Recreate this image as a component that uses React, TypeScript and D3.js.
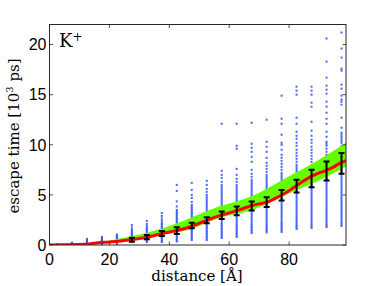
import React from "react";
import * as d3 from "d3";

// ---- data ----
const xTicks = [0, 20, 40, 60, 80];
const yTicks = [0, 5, 10, 15, 20];

// scatter columns (distance [Å]) and escape times [10^3 ps]
const colX = [2.5, 7.5, 12.5, 17.5, 22.5, 27.5, 32.5, 37.5, 42.5, 47.5, 52.5, 57.5, 62.5, 67.5, 72.5, 77.5, 82.5, 87.5, 92.5, 97.5];
const colY: number[][] = [
  [0.01, 0.03, 0.05, 0.08],
  [0.03, 0.06, 0.1, 0.14, 0.18, 0.23],
  [0.05, 0.1, 0.15, 0.2, 0.26, 0.32, 0.4, 0.48, 0.6],
  [0.08, 0.14, 0.2, 0.27, 0.35, 0.42, 0.5, 0.58, 0.68, 0.8],
  [0.12, 0.18, 0.25, 0.32, 0.4, 0.48, 0.56, 0.64, 0.72, 0.82, 0.92, 1.05],
  [0.3, 0.38, 0.45, 0.52, 0.6, 0.68, 0.76, 0.85, 0.95, 1.05, 1.15, 1.28, 1.4, 1.55, 1.75, 2.0],
  [0.3, 0.4, 0.5, 0.6, 0.7, 0.8, 0.9, 1.0, 1.1, 1.2, 1.32, 1.45, 1.58, 1.72, 1.9, 2.1, 2.4],
  [0.3, 0.42, 0.55, 0.68, 0.8, 0.92, 1.05, 1.18, 1.3, 1.42, 1.55, 1.68, 1.8, 1.95, 2.1, 2.25, 2.45, 2.65, 2.9, 3.2],
  [0.35, 0.5, 0.65, 0.8, 0.95, 1.1, 1.25, 1.4, 1.55, 1.7, 1.85, 2.0, 2.15, 2.3, 2.45, 2.6, 2.75, 2.9, 3.05, 3.2, 3.35, 3.5, 3.85, 4.35, 5.4, 6.0],
  [0.5, 0.65, 0.8, 0.95, 1.1, 1.25, 1.4, 1.55, 1.7, 1.85, 2.0, 2.15, 2.3, 2.45, 2.6, 2.75, 2.9, 3.05, 3.2, 3.35, 3.5, 3.65, 3.8, 4.0, 4.3, 4.7, 5.0, 5.5, 6.2],
  [0.5, 0.65, 0.8, 0.95, 1.1, 1.25, 1.4, 1.55, 1.7, 1.85, 2.0, 2.2, 2.4, 2.6, 2.8, 3.0, 3.2, 3.4, 3.6, 3.8, 4.0, 4.2, 4.4, 4.6, 4.8, 5.0, 5.3, 5.6, 6.0, 6.4],
  [0.7, 0.85, 1.0, 1.15, 1.3, 1.45, 1.6, 1.75, 1.9, 2.05, 2.2, 2.4, 2.6, 2.8, 3.0, 3.2, 3.4, 3.6, 3.8, 4.0, 4.2, 4.4, 4.6, 4.8, 5.0, 5.2, 5.4, 5.6, 5.8, 6.0, 6.3, 6.7, 7.0, 7.4, 12.1],
  [0.8, 0.95, 1.1, 1.25, 1.4, 1.55, 1.7, 1.85, 2.0, 2.2, 2.4, 2.6, 2.8, 3.0, 3.2, 3.4, 3.6, 3.8, 4.0, 4.2, 4.4, 4.6, 4.8, 5.0, 5.2, 5.4, 5.6, 5.8, 6.0, 6.3, 6.6, 7.0, 7.6, 9.6, 9.9, 12.1],
  [1.2, 1.35, 1.5, 1.65, 1.8, 1.95, 2.1, 2.3, 2.5, 2.7, 2.9, 3.1, 3.3, 3.5, 3.7, 3.9, 4.1, 4.3, 4.5, 4.7, 4.9, 5.1, 5.3, 5.5, 5.7, 5.9, 6.1, 6.3, 6.5, 6.8, 7.1, 7.5, 8.3, 8.8, 9.3, 9.7, 10.1, 12.2],
  [1.25, 1.4, 1.55, 1.7, 1.85, 2.0, 2.2, 2.4, 2.6, 2.8, 3.0, 3.2, 3.4, 3.6, 3.8, 4.0, 4.2, 4.4, 4.6, 4.8, 5.0, 5.2, 5.4, 5.6, 5.8, 6.0, 6.2, 6.4, 6.6, 6.8, 7.0, 7.3, 7.6, 7.9, 8.2, 8.7, 9.3, 9.8, 10.3, 12.5],
  [1.3, 1.45, 1.6, 1.75, 1.9, 2.05, 2.2, 2.4, 2.6, 2.8, 3.0, 3.2, 3.4, 3.6, 3.8, 4.0, 4.2, 4.4, 4.6, 4.8, 5.0, 5.2, 5.4, 5.6, 5.8, 6.0, 6.2, 6.4, 6.6, 6.8, 7.0, 7.2, 7.5, 7.8, 8.1, 8.4, 8.7, 9.0, 9.5, 10.0, 10.2, 11.0, 12.1, 12.6, 14.9],
  [1.6, 1.75, 1.9, 2.05, 2.2, 2.4, 2.6, 2.8, 3.0, 3.2, 3.4, 3.6, 3.8, 4.0, 4.2, 4.4, 4.6, 4.8, 5.0, 5.2, 5.4, 5.6, 5.8, 6.0, 6.2, 6.4, 6.6, 6.8, 7.0, 7.2, 7.4, 7.6, 7.8, 8.0, 8.3, 8.6, 8.9, 9.2, 9.5, 9.9, 10.2, 10.6, 10.9, 11.3, 12.1, 12.7, 15.0, 15.4, 15.8],
  [1.7, 1.85, 2.0, 2.2, 2.4, 2.6, 2.8, 3.0, 3.2, 3.4, 3.6, 3.8, 4.0, 4.2, 4.4, 4.6, 4.8, 5.0, 5.2, 5.4, 5.6, 5.8, 6.0, 6.2, 6.4, 6.6, 6.8, 7.0, 7.2, 7.4, 7.6, 7.8, 8.0, 8.3, 8.6, 8.9, 9.2, 9.5, 9.8, 10.2, 10.5, 10.9, 11.4, 12.3, 13.8, 14.2, 15.0, 15.4, 15.8],
  [1.8, 1.95, 2.1, 2.3, 2.5, 2.7, 2.9, 3.1, 3.3, 3.5, 3.7, 3.9, 4.1, 4.3, 4.5, 4.7, 4.9, 5.1, 5.3, 5.5, 5.7, 5.9, 6.1, 6.3, 6.5, 6.7, 6.9, 7.1, 7.3, 7.5, 7.7, 7.9, 8.1, 8.4, 8.7, 9.0, 9.3, 9.6, 9.9, 10.1, 10.3, 10.8, 11.3, 12.1, 12.6, 13.2, 13.8, 14.3, 15.1, 15.5, 15.9, 16.7, 18.3, 20.6],
  [1.9, 2.05, 2.2, 2.4, 2.6, 2.8, 3.0, 3.2, 3.4, 3.6, 3.8, 4.0, 4.2, 4.4, 4.6, 4.8, 5.0, 5.2, 5.4, 5.6, 5.8, 6.0, 6.2, 6.4, 6.6, 6.8, 7.0, 7.2, 7.4, 7.6, 7.8, 8.0, 8.2, 8.4, 8.7, 9.0, 9.3, 9.6, 9.9, 10.2, 10.4, 10.6, 10.8, 11.0, 11.2, 11.7, 12.7, 14.0, 14.3, 14.5, 14.9, 15.6, 16.0, 17.4, 17.6, 18.7, 19.6, 21.2],
];

// green band (fit range)
const bandX = [0, 10, 20, 30, 40, 45.4, 56.5, 67.7, 78.8, 90, 99];
const bandLo = [0, 0.07, 0.28, 0.63, 1.15, 1.43, 2.67, 3.5, 5.0, 6.43, 7.8];
const bandHi = [0, 0.12, 0.45, 1.05, 1.9, 2.5, 3.83, 4.9, 6.67, 8.5, 10.2];

// red mean curve
const meanX = [0, 5, 10, 13, 17, 20, 23, 25, 27.8, 30, 32.6, 35, 37.6, 40, 42.6, 45.4, 47.6, 50, 52.6, 55, 57.6, 60, 62.6, 64.9, 67.4, 69.8, 72.5, 74.9, 77.5, 79.9, 82.4, 84.9, 87.2, 89.8, 92.1, 94.8, 97, 99];
const meanY = [0, 0.02, 0.06, 0.1, 0.25, 0.3, 0.38, 0.45, 0.55, 0.65, 0.77, 0.95, 1.15, 1.3, 1.45, 1.67, 1.88, 2.17, 2.45, 2.75, 3.0, 3.2, 3.43, 3.67, 3.93, 4.1, 4.23, 4.57, 4.97, 5.4, 5.9, 6.4, 6.83, 7.17, 7.4, 7.77, 8.17, 8.43];

// error bars
const errX = [27.5, 32.5, 37.5, 42.5, 47.5, 52.5, 57.5, 62.5, 67.5, 72.5, 77.5, 82.5, 87.5, 92.5, 97.5];
const errLo = [0.33, 0.57, 0.9, 1.1, 1.67, 2.17, 2.6, 2.97, 3.43, 3.8, 4.43, 5.23, 5.77, 6.43, 7.1];
const errHi = [0.73, 1.0, 1.4, 1.77, 2.23, 2.77, 3.33, 3.83, 4.33, 4.77, 5.5, 6.5, 7.5, 8.33, 9.17];

export default function App() {
  const W = 382, H = 286;
  const x = d3.scaleLinear().domain([0, 99]).range([49.5, 346]);
  const y = d3.scaleLinear().domain([0, 22]).range([245, 24.5]);
  const [x0, x1] = x.range();
  const [y0, y1] = y.range();

  const area = d3.area<number>()
    .x((_, i) => x(bandX[i]))
    .y0((_, i) => y(bandLo[i]))
    .y1((_, i) => y(bandHi[i]))
    .curve(d3.curveMonotoneX);
  const line = d3.line<number>()
    .x((_, i) => x(meanX[i]))
    .y((v) => y(v));

  const tickLen = 3.5;
  const axisColor = "#262626";
  const sans = "'Liberation Sans', Arial, Helvetica, sans-serif";
  const serif = "'DejaVu Serif', serif";

  return (
    <svg width={W} height={H} style={{ position: "absolute", left: 0, top: 0, background: "#fff" }}>
      <defs>
        <clipPath id="plot">
          <rect x={x0} y={y1} width={x1 - x0} height={y0 - y1} />
        </clipPath>
      </defs>
      <g clipPath="url(#plot)">
        {colX.map((cx, i) =>
          colY[i].map((v, j) => (
            <rect key={`p${i}-${j}`} x={x(cx) - 1} y={y(v) - 1} width={2} height={2} fill="#3355ff" fillOpacity={0.9} />
          ))
        )}
        <path d={area(bandX) ?? ""} fill="#66ff00" stroke="none" />
        <path d={line(meanY) ?? ""} fill="none" stroke="#ff0000" strokeWidth={3} strokeLinejoin="round" />
        {errX.map((ex, i) => {
          const cx = x(ex);
          return (
            <g key={`e${i}`} stroke="#000" strokeWidth={2}>
              <line x1={cx} x2={cx} y1={y(errLo[i])} y2={y(errHi[i])} />
              <line x1={cx - 3} x2={cx + 3} y1={y(errLo[i])} y2={y(errLo[i])} />
              <line x1={cx - 3} x2={cx + 3} y1={y(errHi[i])} y2={y(errHi[i])} />
            </g>
          );
        })}
      </g>
      {/* ticks */}
      <g stroke={axisColor} strokeWidth={0.8}>
        {xTicks.map((t) => (
          <g key={`xt${t}`}>
            <line x1={x(t)} x2={x(t)} y1={y0} y2={y0 - tickLen} />
            <line x1={x(t)} x2={x(t)} y1={y1} y2={y1 + tickLen} />
          </g>
        ))}
        {yTicks.map((t) => (
          <g key={`yt${t}`}>
            <line x1={x0} x2={x0 + tickLen} y1={y(t)} y2={y(t)} />
            <line x1={x1} x2={x1 - tickLen} y1={y(t)} y2={y(t)} />
          </g>
        ))}
      </g>
      <rect x={x0} y={y1} width={x1 - x0} height={y0 - y1} fill="none" stroke={axisColor} strokeWidth={1} />
      {/* tick labels */}
      <g fontFamily={sans} fontSize={16} fill="#000">
        {xTicks.map((t) => (
          <text key={`xl${t}`} x={x(t)} y={264.5} textAnchor="middle">{t}</text>
        ))}
        {yTicks.map((t) => (
          <text key={`yl${t}`} x={46.5} y={y(t)} dy="0.36em" textAnchor="end">{t}</text>
        ))}
      </g>
      {/* axis labels */}
      <text x={197} y={281} textAnchor="middle" fontFamily={serif} fontSize={15} fill="#000">distance [Å]</text>
      <text transform="translate(19,136) rotate(-90)" textAnchor="middle" fontFamily={serif} fontSize={15} fill="#000">
        escape time [10<tspan dy={-6} fontSize={10}>3</tspan><tspan dy={6}> ps]</tspan>
      </text>
      <text x={59} y={47.3} fontFamily={serif} fontSize={18} fill="#000">
        K<tspan dy={-6.5} fontSize={12}>+</tspan>
      </text>
    </svg>
  );
}
